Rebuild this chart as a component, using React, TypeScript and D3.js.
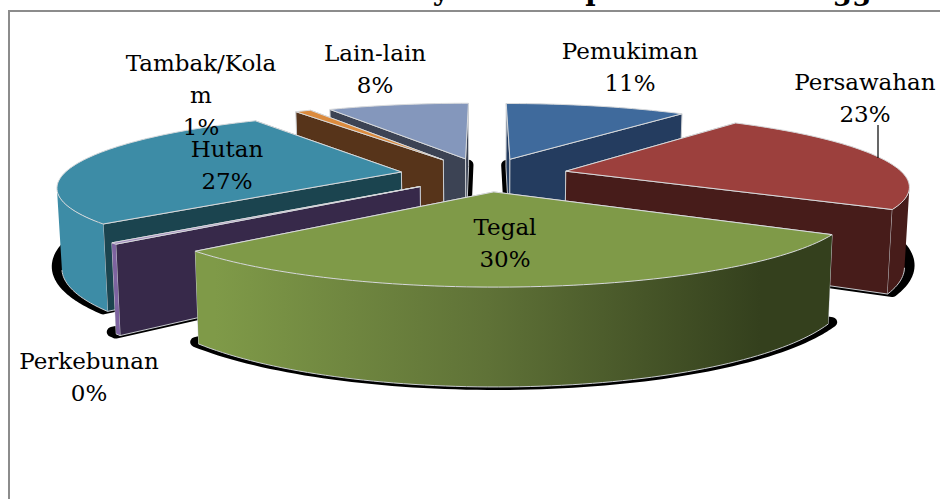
import React from "react";
import * as d3 from "d3";

const categories = ["Pemukiman", "Persawahan", "Tegal", "Perkebunan", "Hutan", "Tambak/Kolam", "Lain-lain"];
const values = [10.5, 22.85, 29.95, 0.3, 27.35, 0.9, 8.15];
const percentLabels = ["11%", "23%", "30%", "0%", "27%", "1%", "8%"];
const explosion = [80, 83, 80, 84, 85, 84, 80];
const topColors = ["#3F6A9C", "#9C403D", "#7F9A48", "#9F86BE", "#3D8CA6", "#DB8B3E", "#8497BC"];
const wallColors = ["#243C5F", "#471C1A", "#34401D", "#37294A", "#1B444F", "#57341A", "#3C4354"];
const outerColors = ["#243C5F", "#471C1A", "url(#tegalWall)", "#7D63A0", "#3D8CA6", "#D9873A", "#3C4354"];
const labelLines = [["Pemukiman"], ["Persawahan"], ["Tegal"], ["Perkebunan"], ["Hutan"], ["Tambak/Kola", "m"], ["Lain-lain"]];
const labelCenters = [630, 865, 505, 89, 227, 201, 375];
const labelBaselines = [59, 90, 235, 369, 157, 71, 61];
const paintOrder = [6, 0, 5, 4, 1, 3, 2];
const titleFragments = ["y", "p", "gg"];
const titleFragmentX = [441, 595, 852];

const W = 940, H = 499;
const CX = 485, Y0 = 174.5, HORIZON = -218, DEPTH = 1873;
const R = 338, WALL = 77.6, CONVERGE = 0.00015;
const FONT = "'DejaVu Serif', serif";

const pieAngles = d3.pie<number>().sort(null).startAngle(0).endAngle(2 * Math.PI)(values);

const line = d3.line<[number, number]>().x((p) => p[0]).y((p) => p[1]);

function project(X: number, Y: number, Z: number): [number, number] {
  const s = DEPTH / (DEPTH - Y);
  return [CX + X * s * (1 - CONVERGE * Z), HORIZON + (Y0 - HORIZON) * s + Z * s];
}

function apex(i: number) {
  const a = pieAngles[i];
  const mid = (a.startAngle + a.endAngle) / 2;
  return { X: explosion[i] * Math.sin(mid), Y: -explosion[i] * Math.cos(mid) };
}
function rim(i: number, ang: number) {
  const c = apex(i);
  return { X: c.X + R * Math.sin(ang), Y: c.Y - R * Math.cos(ang) };
}
function arcSamples(i: number) {
  const a = pieAngles[i];
  const n = Math.max(2, Math.ceil((a.endAngle - a.startAngle) * 40));
  return d3.range(n + 1).map((k) => a.startAngle + ((a.endAngle - a.startAngle) * k) / n);
}
function screenX(i: number, t: number) {
  const p = rim(i, t);
  return project(p.X, p.Y, 0)[0];
}
// The part of the rim whose wall faces the viewer: the screen x keeps moving outward
// from the front of the pie up to the left or right silhouette of the slice.
function frontSamples(i: number) {
  const d = 0.004;
  return arcSamples(i).filter((t) =>
    Math.sin(t) < 0 ? screenX(i, t + d) < screenX(i, t) : screenX(i, t - d) > screenX(i, t) || Math.abs(t - Math.PI) < 0.01
  );
}
function topPath(i: number, z = 0) {
  const c = apex(i);
  const pts: [number, number][] = [project(c.X, c.Y, z)];
  arcSamples(i).forEach((t) => { const p = rim(i, t); pts.push(project(p.X, p.Y, z)); });
  return line(pts) + "Z";
}
function outerPath(i: number) {
  const ts = frontSamples(i);
  if (ts.length < 2) return null;
  const up = ts.map((t) => { const p = rim(i, t); return project(p.X, p.Y, 0); });
  const down = ts.slice().reverse().map((t) => { const p = rim(i, t); return project(p.X, p.Y, WALL); });
  return line([...up, ...down]) + "Z";
}
function rimLine(i: number) {
  const ts = frontSamples(i);
  if (ts.length < 2) return null;
  return line(ts.map((t) => { const p = rim(i, t); return project(p.X, p.Y, WALL); }));
}
function radialPath(i: number, ang: number) {
  const c = apex(i), p = rim(i, ang);
  return line([project(c.X, c.Y, 0), project(p.X, p.Y, 0), project(p.X, p.Y, WALL), project(c.X, c.Y, WALL)]) + "Z";
}

function Slice({ i }: { i: number }) {
  const a = pieAngles[i];
  const walls = [a.startAngle, a.endAngle].sort((u, v) => rim(i, u).Y - rim(i, v).Y);
  const outer = outerPath(i);
  const bottom = rimLine(i);
  return (
    <g>
      {walls.map((ang, k) => (
        <path key={k} d={radialPath(i, ang)} fill={wallColors[i]} stroke="#c9ccd0" strokeWidth={1} strokeLinejoin="round" />
      ))}
      {outer && <path d={outer} fill={outerColors[i]} />}
      {bottom && <path d={bottom} fill="none" stroke="#c9ccd0" strokeWidth={1} />}
      <path d={topPath(i)} fill={topColors[i]} stroke="#d8dadc" strokeWidth={1} strokeLinejoin="round" />
    </g>
  );
}

export default function App() {
  return (
    <svg width={W} height={H} viewBox={`0 0 ${W} ${H}`} style={{ position: "absolute", left: 0, top: 0, background: "#fff" }}>
      <defs>
        <linearGradient id="tegalWall" gradientUnits="userSpaceOnUse" x1={215} x2={760} y1={0} y2={0}>
          <stop offset="0" stopColor="#7F9A48" />
          <stop offset="0.5" stopColor="#5F7237" />
          <stop offset="1" stopColor="#34401D" />
        </linearGradient>
      </defs>
      {titleFragments.map((t, k) => (
        <text key={k} x={titleFragmentX[k]} y={0} textAnchor="middle" fontFamily={FONT} fontWeight="bold" fontSize={28} fill="#000">{t}</text>
      ))}
      <path d={`M9,${H}V11H${W}`} fill="none" stroke="#8c8c8c" strokeWidth={2} />
      <g transform={`translate(${CX},-2) scale(1.012,1) translate(${-CX},0)`}>
        {paintOrder.map((i) => (
          <path key={i} d={topPath(i, WALL)} fill="#000" stroke="#000" strokeWidth={10} strokeLinejoin="round" />
        ))}
      </g>
      {paintOrder.map((i) => <Slice key={i} i={i} />)}
      <line x1={878} x2={878} y1={125} y2={158} stroke="#000" strokeWidth={1.2} />
      {categories.map((c, i) => {
        const lines = [...labelLines[i], percentLabels[i]];
        return (
          <text key={c} textAnchor="middle" fontFamily={FONT} fontSize={23} fill="#000">
            {lines.map((l, k) => (
              <tspan key={k} x={labelCenters[i]} y={labelBaselines[i] + k * 32}>{l}</tspan>
            ))}
          </text>
        );
      })}
    </svg>
  );
}
